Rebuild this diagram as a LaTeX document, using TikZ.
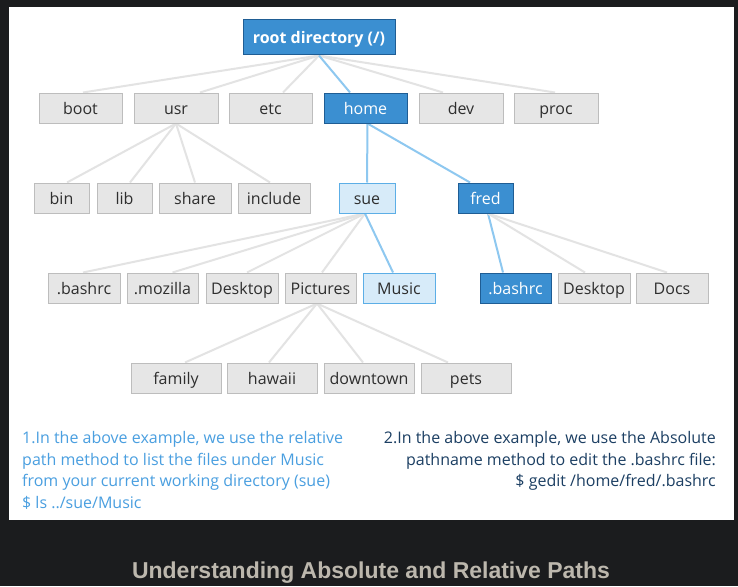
\documentclass[tikz,border=0pt]{standalone}
\usepackage{fontspec}
\setmainfont{Open Sans}
\newfontfamily\boxfont{Open Sans}
\newfontfamily\capfont{Liberation Sans}
\definecolor{darkbg}{HTML}{1B1C1E}
\definecolor{gfill}{HTML}{E6E6E6}
\definecolor{gline}{HTML}{BDBDBD}
\definecolor{bfill}{HTML}{3B8FD1}
\definecolor{bline}{HTML}{1F5D94}
\definecolor{lfill}{HTML}{D7EBF9}
\definecolor{lline}{HTML}{5CAEE6}
\definecolor{gedgec}{HTML}{E3E3E3}
\definecolor{bedgec}{HTML}{8EC8F0}
\definecolor{tdark}{HTML}{2E2E2E}
\definecolor{noteblue}{HTML}{4A9FE0}
\definecolor{notenavy}{HTML}{1C3F63}
\definecolor{capc}{HTML}{BCB7AD}
\pgfdeclarelayer{bg}
\pgfdeclarelayer{edges}
\pgfsetlayers{bg,edges,main}
\tikzset{
  gbox/.style={draw=gline, fill=gfill, line width=1pt, minimum height=30pt, inner sep=0pt, text height=13pt, text depth=1pt, text=tdark, font=\boxfont\fontsize{16}{16}\selectfont},
  bbox/.style={gbox, draw=bline, fill=bfill, text=white},
  lbox/.style={gbox, draw=lline, fill=lfill, text=tdark},
  gedge/.style={draw=gedgec, line width=2pt},
  bedge/.style={draw=bedgec, line width=2pt},
  note/.style={inner sep=0pt, font=\fontsize{16}{16}\selectfont},
}
\begin{document}
\begin{tikzpicture}[x=1pt,y=-1pt]
\begin{pgfonlayer}{bg}
\fill[darkbg] (0,0) rectangle (738,586);
\fill[white] (9,7) rectangle (734,520);
\end{pgfonlayer}
\useasboundingbox (0,0) rectangle (738,586);
% root
\node[bbox, minimum width=152pt, minimum height=35pt, font=\boxfont\bfseries\fontsize{16}{16}\selectfont] (root) at (319,37.5) {root directory (/)};
% row 1
\node[gbox, minimum width=83pt] (boot) at (80.5,108) {boot};
\node[gbox, minimum width=84pt] (usr) at (176,108) {usr};
\node[gbox, minimum width=83pt] (etc) at (270.5,108) {etc};
\node[bbox, minimum width=83pt] (home) at (365.5,108) {home};
\node[gbox, minimum width=84pt] (dev) at (461,108) {dev};
\node[gbox, minimum width=84pt] (proc) at (556,108) {proc};
% row 2
\node[gbox, minimum width=55pt] (bin) at (61.5,198) {bin};
\node[gbox, minimum width=55pt] (lib) at (124.5,198) {lib};
\node[gbox, minimum width=72pt] (share) at (195,198) {share};
\node[gbox, minimum width=72pt] (include) at (274,198) {include};
\node[lbox, minimum width=56pt] (sue) at (367,198) {sue};
\node[bbox, minimum width=55pt] (fred) at (485.5,198) {fred};
% row 3
\node[gbox, minimum width=72pt] (bashrc) at (84,288) {.bashrc};
\node[gbox, minimum width=71pt] (mozilla) at (162.5,288) {.mozilla};
\node[gbox, minimum width=72pt] (desktop) at (242,288) {Desktop};
\node[gbox, minimum width=71pt] (pictures) at (320.5,288) {Pictures};
\node[lbox, minimum width=72pt] (music) at (399,288) {Music};
\node[bbox, minimum width=71pt] (fbashrc) at (515.5,288) {.bashrc};
\node[gbox, minimum width=72pt] (fdesktop) at (594,288) {Desktop};
\node[gbox, minimum width=72pt] (docs) at (672,288) {Docs};
% row 4
\node[gbox, minimum width=90pt] (family) at (176,378) {family};
\node[gbox, minimum width=90pt] (hawaii) at (272,378) {hawaii};
\node[gbox, minimum width=90pt] (downtown) at (369,378) {downtown};
\node[gbox, minimum width=90pt] (pets) at (466,378) {pets};
% edges
\begin{pgfonlayer}{edges}
\draw[gedge] (root.south) -- ([xshift=2.5pt]boot.north);
\draw[gedge] (root.south) -- ([xshift=24pt]usr.north);
\draw[gedge] (root.south) -- ([xshift=12.5pt]etc.north);
\draw[gedge] (root.south) -- ([xshift=-18pt]dev.north);
\draw[gedge] (root.south) -- ([xshift=-1pt]proc.north);
\draw[bedge] (root.south) -- ([xshift=-15.5pt]home.north);
\draw[gedge] (usr.south) -- ([xshift=5.5pt]bin.north);
\draw[gedge] (usr.south) -- ([xshift=5.5pt]lib.north);
\draw[gedge] (usr.south) -- (share.north);
\draw[gedge] (usr.south) -- ([xshift=-4pt]include.north);
\draw[bedge] ([xshift=2pt]home.south) -- (sue.north);
\draw[bedge] ([xshift=2pt]home.south) -- ([xshift=-15.5pt]fred.north);
\draw[gedge] ([xshift=-2pt]sue.south) -- ([xshift=-1pt]bashrc.north);
\draw[gedge] ([xshift=-2pt]sue.south) -- ([xshift=10pt]mozilla.north);
\draw[gedge] ([xshift=-2pt]sue.south) -- ([xshift=5pt]desktop.north);
\draw[gedge] ([xshift=-2pt]sue.south) -- ([xshift=1.5pt]pictures.north);
\draw[bedge] ([xshift=-2pt]sue.south) -- ([xshift=-6pt]music.north);
\draw[bedge] ([xshift=2.5pt]fred.south) -- ([xshift=-12.5pt]fbashrc.north);
\draw[gedge] ([xshift=2.5pt]fred.south) -- ([xshift=-9pt]fdesktop.north);
\draw[gedge] ([xshift=2.5pt]fred.south) -- ([xshift=-5pt]docs.north);
\draw[gedge] ([xshift=-3.5pt]pictures.south) -- ([xshift=9pt]family.north);
\draw[gedge] ([xshift=-3.5pt]pictures.south) -- ([xshift=-3pt]hawaii.north);
\draw[gedge] ([xshift=-3.5pt]pictures.south) -- ([xshift=-6pt]downtown.north);
\draw[gedge] ([xshift=-3.5pt]pictures.south) -- ([xshift=-18pt]pets.north);
\end{pgfonlayer}
% notes
\node[note, text=noteblue, anchor=base west] (n1a) at (22,443) {1.In the above example, we use the relative};
\node[note, text=noteblue, anchor=base west] (n1b) at (22,465) {path method to list the files under Music};
\node[note, text=noteblue, anchor=base west] (n1c) at (22,486.5) {from your current working directory (sue)};
\node[note, text=noteblue, anchor=base west] (n1d) at (22,508) {\$ ls ../sue/Music};
\node[note, text=notenavy, anchor=base east] (n2a) at (716,443) {2.In the above example, we use the Absolute};
\node[note, text=notenavy, anchor=base east] (n2b) at (716,465) {pathname method to edit the .bashrc file:};
\node[note, text=notenavy, anchor=base east] (n2c) at (716,486.5) {\$ gedit /home/fred/.bashrc};
% caption
\node[inner sep=0pt, anchor=base, text=capc, font=\capfont\bfseries\fontsize{23}{23}\selectfont] (cap) at (371,578) {Understanding Absolute and Relative Paths};
\end{tikzpicture}
\end{document}
